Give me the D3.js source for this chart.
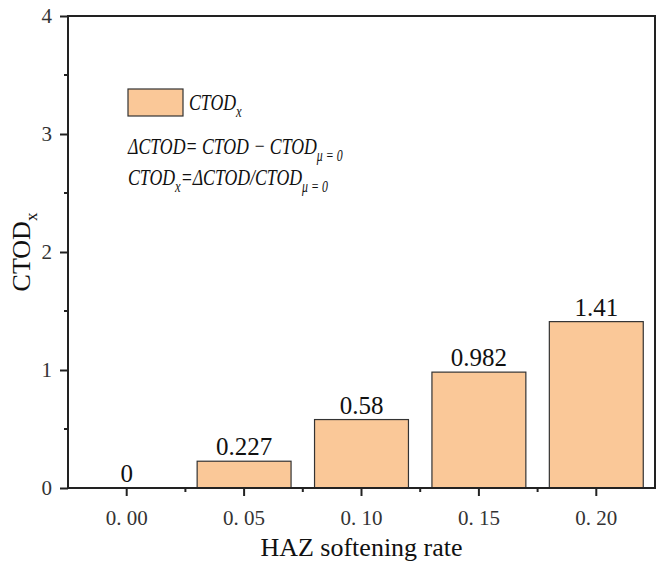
<!DOCTYPE html>
<html>
<head>
<meta charset="utf-8">
<script src="https://cdn.jsdelivr.net/npm/d3@7"></script>
<style>
    body { margin: 0; background: #fff; }
</style>
</head>
<body>
<svg id="chart" width="668" height="570"></svg>
<script>
(function () {
    'use strict';

    var categories = ["0. 00", "0. 05", "0. 10", "0. 15", "0. 20"];
    var ctodValues = [0, 0.227, 0.58, 0.982, 1.41];
    var valueLabels = ["0", "0.227", "0.58", "0.982", "1.41"];
    var yTicks = [0, 1, 2, 3, 4];
    var yMinorTicks = [0.5, 1.5, 2.5, 3.5];

    var vm = {};
    vm.barColor = "#fac898";
    vm.font = "'Liberation Serif', 'Times New Roman', serif";
    vm.squeeze = 0.74;

    createSvg();
    setUpScales();
    drawBars();
    drawAxes();
    drawLegend();

    function createSvg() {
        vm.svg = d3.select("svg#chart").style("font-family", vm.font);
        vm.margin = {top: 16, right: 13, bottom: 82, left: 68};
        vm.width = vm.svg.attr("width") - vm.margin.left - vm.margin.right;
        vm.height = vm.svg.attr("height") - vm.margin.top - vm.margin.bottom;
        vm.g = vm.svg.append("g").attr("transform", "translate(" + vm.margin.left + "," + vm.margin.top + ")");
    }

    function setUpScales() {
        vm.x = d3.scaleBand().domain(categories).range([0, vm.width])
            .paddingInner(0.2).paddingOuter(0.1);
        vm.y = d3.scaleLinear().domain([0, 4]).range([vm.height, 0]);
    }

    function drawBars() {
        var data = categories.map(function (c, i) {
            return {cat: c, value: ctodValues[i], label: valueLabels[i]};
        });

        vm.g.selectAll(".bar")
            .data(data.filter(function (d) { return d.value > 0; }))
            .enter().append("rect")
            .attr("class", "bar")
            .attr("x", function (d) { return vm.x(d.cat); })
            .attr("y", function (d) { return vm.y(d.value); })
            .attr("width", vm.x.bandwidth())
            .attr("height", function (d) { return vm.height - vm.y(d.value); })
            .attr("fill", vm.barColor)
            .attr("stroke", "#333")
            .attr("stroke-width", 1.2);

        vm.g.selectAll(".value")
            .data(data)
            .enter().append("text")
            .attr("class", "value")
            .attr("x", function (d) { return vm.x(d.cat) + vm.x.bandwidth() / 2; })
            .attr("y", function (d) { return vm.y(d.value) - 6; })
            .attr("text-anchor", "middle")
            .style("font-family", vm.font)
            .style("font-size", "25px")
            .attr("fill", "#111")
            .text(function (d) { return d.label; });
    }

    function drawAxes() {
        // frame
        vm.g.append("rect")
            .attr("width", vm.width)
            .attr("height", vm.height)
            .attr("fill", "none")
            .attr("stroke", "#222")
            .attr("stroke-width", 2);

        var step = vm.x.step();
        var xMinor = d3.range(1, categories.length).map(function (i) { return i * step; });

        var xAxis = vm.g.append("g")
            .attr("class", "axis axis--x")
            .attr("transform", "translate(0," + vm.height + ")")
            .call(d3.axisBottom(vm.x).tickSize(8).tickSizeOuter(0).tickPadding(14));
        xAxis.attr("font-family", null);
        xAxis.select(".domain").remove();
        xAxis.selectAll(".tick line").attr("stroke", "#222").attr("stroke-width", 2);
        xAxis.selectAll(".tick text").style("font-family", vm.font).style("font-size", "21px").attr("fill", "#333");
        xAxis.selectAll(".minor")
            .data(xMinor)
            .enter().append("line")
            .attr("class", "minor")
            .attr("x1", function (d) { return d; })
            .attr("x2", function (d) { return d; })
            .attr("y2", 4)
            .attr("stroke", "#222")
            .attr("stroke-width", 2);

        var yAxis = vm.g.append("g")
            .attr("class", "axis axis--y")
            .call(d3.axisLeft(vm.y).tickValues(yTicks).tickFormat(d3.format("d"))
                .tickSize(8).tickSizeOuter(0).tickPadding(8));
        yAxis.attr("font-family", null);
        yAxis.select(".domain").remove();
        yAxis.selectAll(".tick line").attr("stroke", "#222").attr("stroke-width", 2);
        yAxis.selectAll(".tick text").style("font-family", vm.font).style("font-size", "21px").attr("fill", "#333");
        yAxis.selectAll(".minor")
            .data(yMinorTicks)
            .enter().append("line")
            .attr("class", "minor")
            .attr("y1", function (d) { return vm.y(d); })
            .attr("y2", function (d) { return vm.y(d); })
            .attr("x2", -4)
            .attr("stroke", "#222")
            .attr("stroke-width", 2);

        vm.svg.append("text")
            .attr("x", vm.margin.left + vm.width / 2)
            .attr("y", 556)
            .attr("text-anchor", "middle")
            .style("font-size", "26px")
            .attr("fill", "#111")
            .text("HAZ softening rate");

        var yTitle = vm.svg.append("text")
            .attr("transform", "translate(30," + (vm.margin.top + vm.height / 2) + ") rotate(-90)")
            .attr("text-anchor", "middle")
            .style("font-size", "26px")
            .attr("fill", "#111");
        yTitle.append("tspan").text("CTOD");
        yTitle.append("tspan").attr("dy", 7).style("font-size", "17px").text("x");
    }

    function drawLegend() {
        var lg = vm.svg.append("g").attr("transform", "translate(128,89)");
        lg.append("rect")
            .attr("width", 55)
            .attr("height", 27)
            .attr("fill", vm.barColor)
            .attr("stroke", "#333")
            .attr("stroke-width", 1.2);

        // the legend type is a narrow italic, so squeeze the text a bit
        var lt = lg.append("g").attr("transform", "scale(" + vm.squeeze + ",1)");

        var t1 = lt.append("text").attr("x", 61 / vm.squeeze).attr("y", 21)
            .style("font-size", "24px").style("font-style", "italic").attr("fill", "#111");
        t1.append("tspan").text("CTOD");
        t1.append("tspan").attr("dy", 7).style("font-size", "17px").text("x");

        var t2 = lt.append("text").attr("x", 0).attr("y", 65)
            .style("font-size", "24px").style("font-style", "italic").attr("fill", "#111");
        t2.append("tspan").text("\u0394CTOD= CTOD \u2212 CTOD");
        t2.append("tspan").attr("dy", 7).style("font-size", "16px").text("\u03bc = 0");

        var t3 = lt.append("text").attr("x", 0).attr("y", 96)
            .style("font-size", "24px").style("font-style", "italic").attr("fill", "#111");
        t3.append("tspan").text("CTOD");
        t3.append("tspan").attr("dy", 7).style("font-size", "17px").text("x");
        t3.append("tspan").attr("dy", -7).text("=\u0394CTOD/CTOD");
        t3.append("tspan").attr("dy", 7).style("font-size", "16px").text("\u03bc = 0");
    }
})();
</script>
</body>
</html>
